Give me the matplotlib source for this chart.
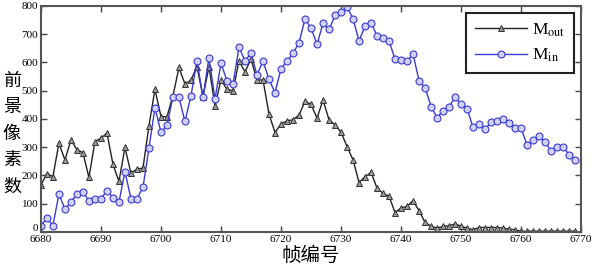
import numpy as np
import matplotlib
matplotlib.use('Agg')
import matplotlib.pyplot as plt
import matplotlib.transforms as mtrans

# 帧编号
frames = np.arange(6680, 6770)

# 前景外像素数 M_out
m_out = [167, 206, 196, 314, 255, 326, 291, 281, 193, 320,
         332, 350, 240, 179, 299, 208, 223, 226, 376, 505,
         408, 408, 482, 582, 523, 538, 585, 479, 585, 446,
         538, 505, 500, 605, 567, 611, 538, 538, 417, 352,
         382, 393, 397, 414, 462, 452, 403, 467, 397, 379,
         353, 302, 255, 175, 196, 211, 155, 137, 126, 69,
         85, 91, 111, 75, 34, 20, 14, 20, 22, 29,
         20, 14, 8, 16, 16, 16, 16, 14, 10, 8,
         2, 3, 3, 3, 3, 3, 3, 3, 3, 3]

# 前景内像素数 M_in
m_in = [23, 49, 23, 134, 81, 105, 135, 141, 111, 117,
        118, 146, 122, 105, 214, 118, 118, 158, 297, 440,
        353, 377, 479, 476, 391, 482, 606, 476, 617, 470,
        597, 535, 523, 654, 605, 632, 556, 605, 540, 493,
        578, 605, 632, 670, 754, 721, 664, 738, 717, 766,
        777, 797, 754, 676, 729, 741, 694, 688, 676, 611,
        609, 605, 629, 535, 511, 444, 405, 429, 444, 476,
        452, 436, 370, 382, 364, 389, 394, 399, 385, 367,
        367, 308, 326, 338, 318, 287, 302, 302, 273, 255]

xticks = np.arange(6680, 6771, 10)
yticks = np.arange(0, 801, 100)

plt.rcParams['font.family'] = ['Liberation Serif', 'Noto Sans CJK SC']
plt.rcParams['mathtext.fontset'] = 'stix'

fig = plt.figure(figsize=(5.93, 2.67), dpi=100)
ax = fig.add_axes([0.069, 0.131, 0.911, 0.847])

ax.plot(frames, m_out, color='#222222', lw=1.0, marker='^', ms=5,
        mfc='#9a9a9a', mec='#333333', mew=0.7, label=r'M$_{\mathrm{out}}$')
ax.plot(frames, m_in, color='#3a3ad0', lw=1.0, marker='o', ms=5,
        mfc='#d0d0f2', mec='#3a3ad0', mew=0.8, label=r'M$_{\mathrm{in}}$')

ax.set_xlim(6680, 6770)
ax.set_ylim(0, 800)
ax.set_xticks(xticks)
ax.set_yticks(yticks)
ax.tick_params(direction='in', top=True, right=True, labelsize=8,
               length=4, width=1, colors='#444444', labelcolor='black', pad=2)
for s in ax.spines.values():
    s.set_color('#555555')
    s.set_linewidth(1.5)

# "0" 稍微上移，避免和 6680 重叠
lab0 = ax.get_yticklabels()[0]
lab0.set_transform(lab0.get_transform() +
                   mtrans.ScaledTranslation(0, 3 / 72, fig.dpi_scale_trans))

ax.set_xlabel('帧编号', family=['Noto Sans CJK SC'], fontsize=14, labelpad=1)
fig.text(0.02, 0.5, '\n'.join('前景像素数'), family=['Noto Sans CJK SC'],
         fontsize=13, va='center', ha='center', linespacing=1.6)

leg = ax.legend(loc='upper right', fontsize=12.5, handlelength=3.0,
                fancybox=False, framealpha=1, borderaxespad=0.4,
                handletextpad=0.3, labelspacing=0.45, borderpad=0.5)
leg.get_frame().set_edgecolor('#222222')
leg.get_frame().set_linewidth(1.5)

plt.savefig('out.png', dpi=100)
